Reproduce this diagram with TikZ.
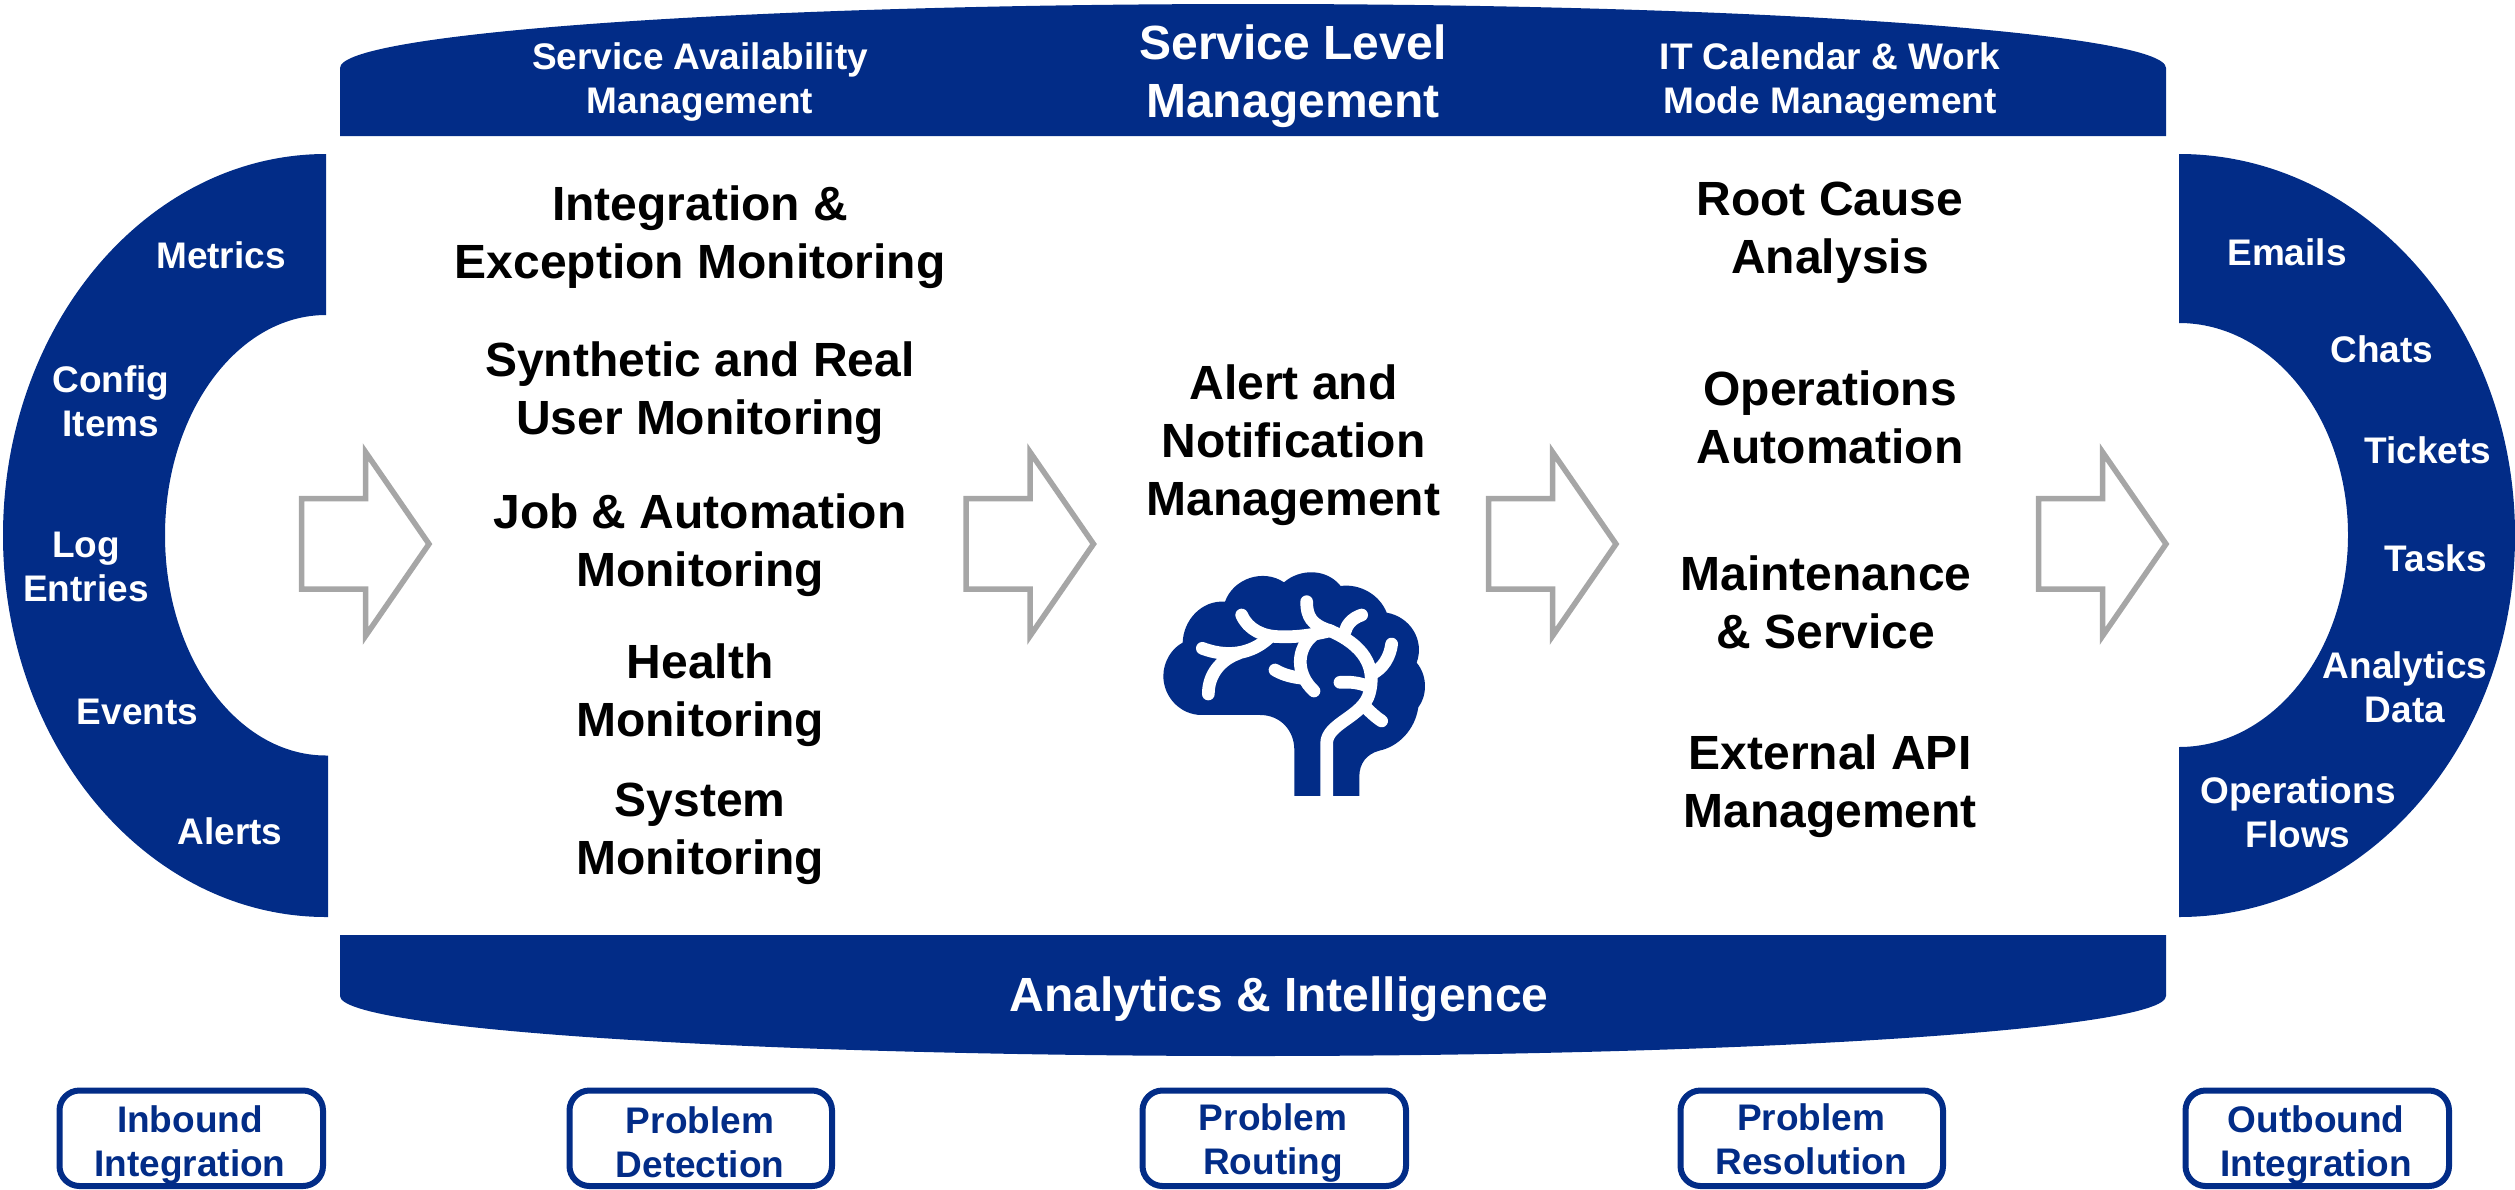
\documentclass[tikz,border=0pt]{standalone}
\usepackage{fontspec}
\setmainfont{Liberation Sans}
\definecolor{navy}{HTML}{022C87}
\definecolor{arrowgrey}{HTML}{A6A6A6}
\tikzset{
  band/.style={fill=navy,draw=none},
  big/.style={font=\fontsize{48}{58}\selectfont\bfseries,align=center,text=black,inner sep=0pt},
  bigwhite/.style={big,text=white},
  small/.style={font=\fontsize{37}{44}\selectfont\bfseries,align=center,text=white,inner sep=0pt},
  tag/.style={font=\fontsize{37}{44}\selectfont\bfseries,align=center,text=navy,inner sep=0pt},
  tagbox/.style={draw=navy,line width=6pt,rounded corners=20pt,fill=white},
  flow/.style={draw=arrowgrey,line width=5.5pt,fill=white,miter limit=10},
  nerve/.style={draw=white,line width=12.7pt,line cap=round,line join=round}
}
\newcommand{\flowarrow}[1]{%
  \draw[flow,xshift=#1pt] (301.5,498.5) -- (365.5,498.5) -- (365.5,452) -- (429,544) -- (365.5,636) -- (365.5,589) -- (301.5,589) -- cycle;}
\newcommand{\tagbx}[2]{\draw[tagbox] (#1,1090.5) rectangle (#2,1186);}
\begin{document}
\begin{tikzpicture}[x=1pt,y=-1pt]
\useasboundingbox (0,0) rectangle (2515,1189);
% bands
\fill[band] (340,136) -- (340,68) arc[start angle=180,end angle=0,x radius=913pt,y radius=64pt] -- (2166,136) -- cycle;
\fill[band] (340,935) -- (340,996) arc[start angle=180,end angle=360,x radius=913pt,y radius=60pt] -- (2166,935) -- cycle;
% left crescent
\fill[band] (326,154) arc[start angle=90,end angle=270,x radius=323pt,y radius=381.5pt]
  -- (328,917) -- (328,755.5) -- (326,755.5) arc[start angle=270,end angle=90,x radius=161pt,y radius=220.25pt] -- cycle;
% right crescent
\fill[band] (2179,154) arc[start angle=90,end angle=-90,x radius=336pt,y radius=381.5pt]
  -- (2179,747) arc[start angle=-90,end angle=90,x radius=169pt,y radius=212pt] -- cycle;
% arrows
\flowarrow{0}\flowarrow{664.5}\flowarrow{1187}\flowarrow{1737}
% brain
\begin{scope}[shift={(1100pt,-520pt)},x=0.3333pt,y=-0.3333pt]
\fill[band] (583,828) -- (583,690) .. controls (583,630) and (540,585) .. (480,585) -- (305,585)
 .. controls (240,585) and (190,530) .. (190,468) .. controls (190,425) and (215,385) .. (248,368)
 .. controls (250,300) and (305,240) .. (375,245) .. controls (400,175) and (490,145) .. (552,187)
 .. controls (600,145) and (680,145) .. (722,198) .. controls (780,190) and (840,225) .. (860,278)
 .. controls (930,290) and (975,360) .. (950,428) .. controls (985,470) and (980,530) .. (955,562)
 .. controls (945,630) and (895,680) .. (838,692) .. controls (800,702) and (778,730) .. (778,770)
 -- (778,828) -- cycle;
\draw[nerve,line cap=butt] (680,828) -- (680,670) .. controls (680,610) and (790,590) .. (808,520)
 .. controls (830,440) and (790,375) .. (690,332) ;
\draw[nerve] (690,332) .. controls (640,345) and (590,352) .. (540,350) .. controls (490,350) and (445,330) .. (425,285);
\draw[nerve] (510,350) .. controls (470,390) and (400,420) .. (307,385);
\draw[nerve] (415,400) .. controls (360,420) and (325,465) .. (325,522);
\draw[nerve] (620,245) .. controls (620,290) and (635,315) .. (690,332);
\draw[nerve] (785,285) .. controls (755,295) and (740,315) .. (735,335);
\draw[nerve] (875,372) .. controls (870,410) and (850,445) .. (815,462);
\draw[nerve] (640,345) .. controls (590,385) and (585,460) .. (642,513);
\draw[nerve] (525,450) .. controls (550,465) and (580,472) .. (610,475);
\draw[nerve] (720,487) .. controls (750,485) and (780,488) .. (805,500);
\draw[nerve] (845,603) .. controls (825,590) and (810,575) .. (795,560);
\end{scope}
% main labels
\node[big] (n1) at (700,237.5) {Integration \&\\Exception Monitoring};
\node[big] (n2) at (700,393.5) {Synthetic and Real\\User Monitoring};
\node[big] (n3) at (700,545) {Job \& Automation\\Monitoring};
\node[big] (n4) at (700,695) {Health\\Monitoring};
\node[big] (n5) at (700,834) {System\\Monitoring};
\node[big] (n6) at (1293.5,445) {Alert and\\Notification\\Management};
\node[big] (n7) at (1830,233) {Root Cause\\Analysis};
\node[big] (n8) at (1830,417) {Operations\\Automation};
\node[big] (n9) at (1826,602) {Maintenance\\\& Service};
\node[big] (n10) at (1830,786) {External API\\Management};
% band labels
\node[bigwhite] (t1) at (1293,76.5) {Service Level\\Management};
\node[small] (t2) at (700,82) {Service Availability\\Management};
\node[small] (t3) at (1830,82) {IT Calendar \& Work\\Mode Management};
\node[bigwhite] (b1) at (1279,999) {Analytics \& Intelligence};
% left labels
\node[small] (l1) at (221,255) {Metrics};
\node[small] (l2) at (111,401) {Config\\Items};
\node[small] (l3) at (86,566.5) {Log\\Entries};
\node[small] (l4) at (137.5,712) {Events};
\node[small] (l5) at (230,831) {Alerts};
% right labels
\node[small] (r1) at (2287,252) {Emails};
\node[small] (r2) at (2382,349) {Chats};
\node[small] (r3) at (2428,450) {Tickets};
\node[small] (r4) at (2436,558) {Tasks};
\node[small] (r5) at (2405,687) {Analytics\\Data};
\node[small] (r6) at (2298,812.5) {Operations\\Flows};
% bottom tags
\tagbx{59.5}{323}\tagbx{569.5}{832}\tagbx{1142.5}{1406}\tagbx{1680.5}{1943}\tagbx{2185.5}{2449}
\node[tag] (g1) at (190,1145) {Inbound\\Integration};
\node[tag] (g2) at (700,1142) {Problem\\Detection};
\node[tag] (g3) at (1273,1143) {Problem\\Routing};
\node[tag] (g4) at (1811,1139) {Problem\\Resolution};
\node[tag] (g5) at (2316,1145) {Outbound\\Integration};
\end{tikzpicture}
\end{document}
